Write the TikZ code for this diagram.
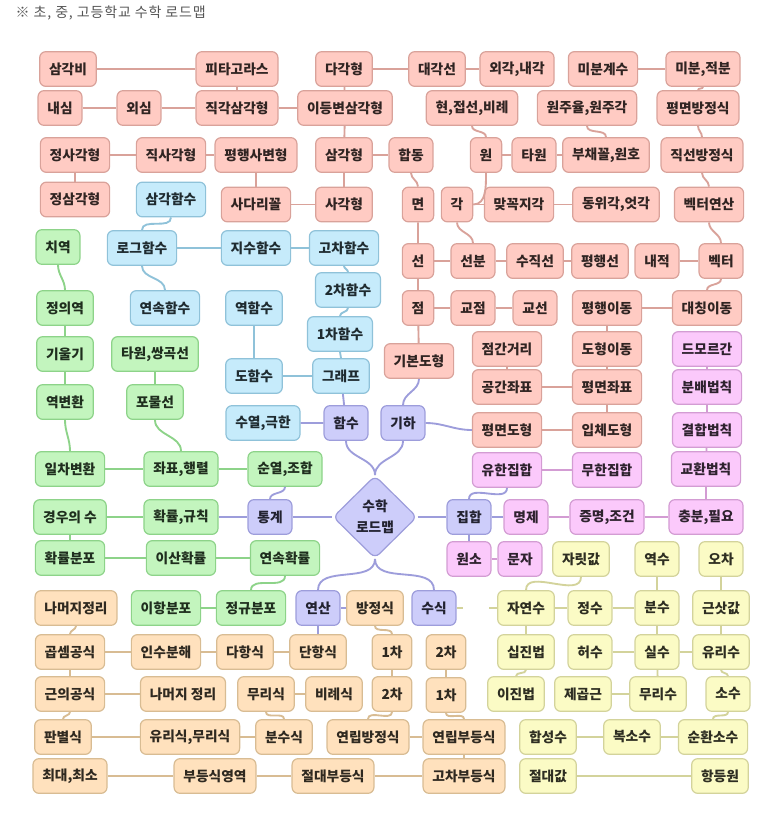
\documentclass[tikz,border=0pt]{standalone}
\usepackage{fontspec}
\setmainfont{Noto Sans CJK KR}
\usetikzlibrary{shapes.geometric}
\definecolor{geofill}{HTML}{FFCBC3}
\definecolor{geoline}{HTML}{D9A29A}
\definecolor{fnfill}{HTML}{C6EBFB}
\definecolor{fnline}{HTML}{8FC2D9}
\definecolor{statfill}{HTML}{C3F5BE}
\definecolor{statline}{HTML}{8DD389}
\definecolor{hubfill}{HTML}{CDCDFA}
\definecolor{hubline}{HTML}{9D9DDB}
\definecolor{setfill}{HTML}{FBC9FB}
\definecolor{setline}{HTML}{D39CD3}
\definecolor{algfill}{HTML}{FFE1BD}
\definecolor{algline}{HTML}{D8BC93}
\definecolor{numfill}{HTML}{FBFBC5}
\definecolor{numline}{HTML}{D3D39B}
\definecolor{ink}{HTML}{555555}
\tikzset{
  box/.style={draw=#1line,fill=#1fill,text=#1line!22!black,line width=0.9pt,rounded corners=4.5pt,
              minimum height=26pt,inner xsep=7pt,inner ysep=2pt,font=\bfseries\fontsize{10.3}{12}\selectfont},
  box/.default=geo,
  wire/.style={draw=#1line,line width=1.4pt},
  wire/.default=geo,
}

\begin{document}
\begin{tikzpicture}[x=0.75pt,y=-0.75pt]
  \useasboundingbox (0,0) rectangle (779,814);
  \node[anchor=west,text=ink,font=\fontsize{10.5}{12}\selectfont\addfontfeatures{LetterSpace=6}] (title) at (11,13) {※ 초, 중, 고등학교 수학 로드맵};
  % geometry
  \node[box] (trigratio) at (68,69) {삼각비};
  \node[box] (pyth) at (237,69) {피타고라스};
  \node[box] (polygon) at (344,69) {다각형};
  \node[box] (diagonal) at (437,69) {대각선};
  \node[box] (extint) at (517,69) {외각,내각};
  \node[box] (diffcoef) at (603,69) {미분계수};
  \node[box] (diffint) at (703,69) {미분,적분};
  \node[box] (incenter) at (60,108) {내심};
  \node[box] (circum) at (139,108) {외심};
  \node[box] (righttri) at (237,108) {직각삼각형};
  \node[box] (isosceles) at (345,108) {이등변삼각형};
  \node[box] (chord) at (472,108) {현,접선,비례};
  \node[box] (pirad) at (587,108) {원주율,원주각};
  \node[box] (planeeq) at (698,108) {평면방정식};
  \node[box] (square) at (75,155) {정사각형};
  \node[box] (rect) at (171,155) {직사각형};
  \node[box] (parallelo) at (256,155) {평행사변형};
  \node[box] (triangle) at (344,155) {삼각형};
  \node[box] (congr) at (411,155) {합동};
  \node[box] (circle) at (486,155) {원};
  \node[box] (ellipse) at (534,155) {타원};
  \node[box] (sector) at (606,155) {부채꼴,원호};
  \node[box] (lineeq) at (702,155) {직선방정식};
  \node[box] (equitri) at (75,199.5) {정삼각형};
  \node[box] (trapez) at (256,204.5) {사다리꼴};
  \node[box] (quad) at (344,204.5) {사각형};
  \node[box] (face) at (418,204.5) {면};
  \node[box] (angle) at (457,204.5) {각};
  \node[box] (vertang) at (519,204.5) {맞꼭지각};
  \node[box] (corrang) at (616,204.5) {동위각,엇각};
  \node[box] (vecop) at (709,204.5) {벡터연산};
  \node[box] (line) at (418,261) {선};
  \node[box] (segment) at (473,261) {선분};
  \node[box] (perp) at (535,261) {수직선};
  \node[box] (parallel) at (600,261) {평행선};
  \node[box] (inner) at (657,261) {내적};
  \node[box] (vector) at (721,261) {벡터};
  \node[box] (point) at (418,308) {점};
  \node[box] (intpt) at (473,308) {교점};
  \node[box] (intline) at (535,308) {교선};
  \node[box] (translate) at (607,308) {평행이동};
  \node[box] (reflect) at (707,308) {대칭이동};
  \node[box] (basic) at (419,361) {기본도형};
  \node[box] (dist) at (507,349) {점간거리};
  \node[box] (transform) at (607,349) {도형이동};
  \node[box] (spacecoord) at (507,387) {공간좌표};
  \node[box] (planecoord) at (607,387) {평면좌표};
  \node[box] (planefig) at (507,430) {평면도형};
  \node[box] (solidfig) at (607,430) {입체도형};
  % functions
  \node[box=fn] (trigfn) at (171,199.5) {삼각함수};
  \node[box=fn] (logfn) at (142,248) {로그함수};
  \node[box=fn] (expfn) at (256,248) {지수함수};
  \node[box=fn] (polyfn) at (344,248) {고차함수};
  \node[box=fn] (quadfn) at (348,290) {2차함수};
  \node[box=fn] (contfn) at (165,308) {연속함수};
  \node[box=fn] (invfn) at (254,308) {역함수};
  \node[box=fn] (linfn) at (340,334) {1차함수};
  \node[box=fn] (deriv) at (254,376) {도함수};
  \node[box=fn] (graph) at (341,376) {그래프};
  \node[box=fn] (seqlim) at (263,423) {수열,극한};
  % statistics
  \node[box=stat] (range) at (58,247) {치역};
  \node[box=stat] (domain) at (65,308) {정의역};
  \node[box=stat] (slope) at (65,354) {기울기};
  \node[box=stat] (conics) at (155,354) {타원,쌍곡선};
  \node[box=stat] (inverse) at (65,402) {역변환};
  \node[box=stat] (parabola) at (155,402) {포물선};
  \node[box=stat] (lintrans) at (70,469) {일차변환};
  \node[box=stat] (coordmat) at (181,469) {좌표,행렬};
  \node[box=stat] (permcomb) at (285,469) {순열,조합};
  \node[box=stat] (cases) at (70,517) {경우의 수};
  \node[box=stat] (probrule) at (181,517) {확률,규칙};
  \node[box=stat] (probdist) at (70,558) {확률분포};
  \node[box=stat] (discrete) at (181,558) {이산확률};
  \node[box=stat] (continuous) at (285,558) {연속확률};
  \node[box=stat] (binom) at (166,608) {이항분포};
  \node[box=stat] (normal) at (251,608) {정규분포};
  % hubs
  \node[box=hub,diamond,aspect=1,minimum width=63pt,minimum height=62pt,inner sep=0pt,align=center,
        font=\bfseries\fontsize{10.3}{16}\selectfont] (roadmap) at (375,517) {수학\\로드맵};
  \node[box=hub] (func) at (346,423) {함수};
  \node[box=hub] (geom) at (403,423) {기하};
  \node[box=hub] (stats) at (270,517) {통계};
  \node[box=hub] (sets) at (469,517) {집합};
  \node[box=hub] (oper) at (318,608) {연산};
  \node[box=hub] (expr) at (434,608) {수식};
  % sets and logic
  \node[box=set] (demorgan) at (707,349) {드모르간};
  \node[box=set] (distrib) at (707,387) {분배법칙};
  \node[box=set] (assoc) at (707,430) {결합법칙};
  \node[box=set] (finite) at (507,470) {유한집합};
  \node[box=set] (infinite) at (607,470) {무한집합};
  \node[box=set] (commut) at (706,469) {교환법칙};
  \node[box=set] (prop) at (526,517) {명제};
  \node[box=set] (proofcond) at (607,517) {증명,조건};
  \node[box=set] (suffnec) at (706,517) {충분,필요};
  \node[box=set] (element) at (469,559) {원소};
  \node[box=set] (letter) at (520,559) {문자};
  % algebra
  \node[box=alg] (remthm) at (76,608) {나머지정리};
  \node[box=alg] (equation) at (375,608) {방정식};
  \node[box=alg] (mulform) at (70,652) {곱셈공식};
  \node[box=alg] (factor) at (166,652) {인수분해};
  \node[box=alg] (polynom) at (245,652) {다항식};
  \node[box=alg] (monom) at (318,652) {단항식};
  \node[box=alg] (leqone) at (392,652) {1차};
  \node[box=alg] (rqtwo) at (446,652) {2차};
  \node[box=alg] (quadform) at (70,694) {근의공식};
  \node[box=alg] (remthmb) at (183,694) {나머지 정리};
  \node[box=alg] (irrexpr) at (266,694) {무리식};
  \node[box=alg] (ratioexpr) at (334,694) {비례식};
  \node[box=alg] (leqtwo) at (392,694) {2차};
  \node[box=alg] (rqone) at (446,695) {1차};
  \node[box=alg] (discrim) at (63,737) {판별식};
  \node[box=alg] (ratirr) at (190,737) {유리식,무리식};
  \node[box=alg] (fracexpr) at (284,737) {분수식};
  \node[box=alg] (simuleq) at (368,737) {연립방정식};
  \node[box=alg] (simulineq) at (464,737) {연립부등식};
  \node[box=alg] (maxmin) at (70,776) {최대,최소};
  \node[box=alg] (ineqregion) at (215,776) {부등식영역};
  \node[box=alg] (absineq) at (333,776) {절대부등식};
  \node[box=alg] (highineq) at (464,776) {고차부등식};
  % numbers
  \node[box=num] (placeval) at (581,559) {자릿값};
  \node[box=num] (recip) at (657,559) {역수};
  \node[box=num] (error) at (721,559) {오차};
  \node[box=num] (natural) at (526,608) {자연수};
  \node[box=num] (integer) at (590,608) {정수};
  \node[box=num] (fraction) at (657,608) {분수};
  \node[box=num] (approx) at (721,608) {근삿값};
  \node[box=num] (decimal) at (526,652) {십진법};
  \node[box=num] (imag) at (590,652) {허수};
  \node[box=num] (real) at (657,652) {실수};
  \node[box=num] (rational) at (721,652) {유리수};
  \node[box=num] (binary) at (516,694) {이진법};
  \node[box=num] (sqroot) at (583,694) {제곱근};
  \node[box=num] (irrational) at (658,694) {무리수};
  \node[box=num] (decfrac) at (728,694) {소수};
  \node[box=num] (composite) at (548,737) {합성수};
  \node[box=num] (complex) at (632,737) {복소수};
  \node[box=num] (repeating) at (713,737) {순환소수};
  \node[box=num] (absval) at (548,776) {절대값};
  \node[box=num] (identity) at (720,776) {항등원};

  % links
  \draw[wire] (trigratio) -- (pyth) -- (righttri);
  \draw[wire] (polygon) -- (diagonal) -- (extint);
  \draw[wire] (polygon) -- (isosceles) -- (triangle);
  \draw[wire] (incenter) -- (circum) -- (righttri) -- (isosceles);
  \draw[wire] (square) -- (rect) -- (parallelo) -- (trapez) -- (quad);
  \draw[wire] (square) -- (equitri);
  \draw[wire] (triangle) -- (quad);
  \draw[wire] (triangle) -- (congr);
  \draw[wire] (congr.south) to[out=-90,in=90] (face.north);
  \draw[wire] (face) -- (line) -- (point) -- (basic);
  \draw[wire] (chord.south) to[out=-90,in=90] (circle.north);
  \draw[wire] (circle) -- (ellipse) -- (sector);
  \draw[wire] (pirad.south) to[out=-90,in=90] (sector.north);
  \draw[wire] (circle.south) to[out=-90,in=0] (angle.east);
  \draw[wire] (angle) -- (vertang) -- (corrang);
  \draw[wire] (angle.south) to[out=-90,in=90] (segment.north);
  \draw[wire] (diffcoef) -- (diffint);
  \draw[wire] (diffint.south) to[out=-90,in=90] (planeeq.north);
  \draw[wire] (planeeq.south) to[out=-90,in=90] (lineeq.north);
  \draw[wire] (lineeq.south) to[out=-90,in=90] (vecop.north);
  \draw[wire] (vecop.south) to[out=-90,in=90] (vector.north);
  \draw[wire] (line) -- (segment) -- (perp) -- (parallel);
  \draw[wire] (inner) -- (vector);
  \draw[wire] (vector.south) to[out=-90,in=90] (reflect.north);
  \draw[wire] (point) -- (intpt) -- (intline);
  \draw[wire] (reflect) -- (translate) -- (transform) -- (planecoord) -- (solidfig) -- (planefig);
  \draw[wire] (dist) -- (spacecoord) -- (planecoord);

  \draw[wire=fn] (trigfn.south) to[out=-90,in=90] (logfn.north);
  \draw[wire=fn] (logfn) -- (expfn) -- (polyfn);
  \draw[wire=fn] (logfn.south) to[out=-90,in=90] (contfn.north);
  \draw[wire=fn] (polyfn.south) to[out=-90,in=90] (quadfn.north);
  \draw[wire=fn] (quadfn.south) to[out=-90,in=90] (linfn.north);
  \draw[wire=fn] (linfn.south) to[out=-90,in=90] (graph.north);
  \draw[wire=fn] (invfn) -- (deriv) -- (graph);

  \draw[wire=stat] (range.south) to[out=-90,in=90] (domain.north);
  \draw[wire=stat] (domain) -- (slope) -- (inverse);
  \draw[wire=stat] (inverse.south) to[out=-90,in=90] (lintrans.north);
  \draw[wire=stat] (conics) -- (parabola);
  \draw[wire=stat] (parabola.south) to[out=-90,in=90] (coordmat.north);
  \draw[wire=stat] (lintrans) -- (coordmat) -- (permcomb);
  \draw[wire=stat] (cases) -- (probrule);
  \draw[wire=stat] (cases) -- (probdist) -- (discrete) -- (continuous);
  \draw[wire=stat] (continuous.south) to[out=-90,in=90] (normal.north);
  \draw[wire=stat] (binom) -- (normal);

  \draw[wire=hub] (graph) -- (func) -- (seqlim);
  \draw[wire=hub] (basic.south) to[out=-90,in=90] (geom.north);
  \draw[wire=hub] (geom.east) to[out=0,in=180] (planefig.west);
  \draw[wire=hub] (roadmap.north) to[out=90,in=-90] (func.south);
  \draw[wire=hub] (roadmap.north) to[out=90,in=-90] (geom.south);
  \draw[wire=hub] (probrule) -- (stats) -- (roadmap) -- (sets) -- (prop);
  \draw[wire=hub] (permcomb.south) to[out=-90,in=90] (stats.north);
  \draw[wire=hub] (sets.north) to[out=90,in=-90] (finite.south);
  \draw[wire=hub] (sets) -- (element);
  \draw[wire=hub] (roadmap.south) to[out=-90,in=90] (oper.north);
  \draw[wire=hub] (roadmap.south) to[out=-90,in=90] (expr.north);
  \draw[wire=hub] (equation) -- (oper) -- (monom);

  \draw[wire=set] (demorgan) -- (distrib) -- (assoc) -- (commut) -- (suffnec);
  \draw[wire=set] (finite) -- (infinite);
  \draw[wire=set] (prop) -- (proofcond) -- (suffnec);
  \draw[wire=set] (element) -- (letter);

  \draw[wire=alg] (remthm.south) to[out=-90,in=90] (mulform.north);
  \draw[wire=alg] (mulform) -- (factor) -- (polynom) -- (monom);
  \draw[wire=alg] (mulform) -- (quadform) -- (remthmb);
  \draw[wire=alg] (quadform.south) to[out=-90,in=90] (discrim.north);
  \draw[wire=alg] (irrexpr) -- (ratioexpr);
  \draw[wire=alg] (irrexpr.south) to[out=-90,in=90] (fracexpr.north);
  \draw[wire=alg] (discrim) -- (ratirr) -- (fracexpr);
  \draw[wire=alg] (maxmin) -- (ineqregion) -- (absineq) -- (highineq);
  \draw[wire=alg] (equation.south) to[out=-90,in=90] (leqone.north);
  \draw[wire=alg] (leqone) -- (leqtwo);
  \draw[wire=alg] (leqtwo.south) to[out=-90,in=90] (simuleq.north);
  \draw[wire=alg] (simuleq) -- (simulineq) -- (highineq);
  \draw[wire=alg] (rqtwo) -- (rqone);
  \draw[wire=alg] (rqone.south) to[out=-90,in=90] (simulineq.north);

  \draw[wire=num,dash pattern=on 4.5pt off 20pt on 20pt] (expr) -- (natural);
  \draw[wire=num] (placeval.south) to[out=-90,in=90] (natural.north);
  \draw[wire=num] (natural) -- (integer) -- (fraction);
  \draw[wire=num] (recip) -- (fraction) -- (real) -- (irrational);
  \draw[wire=num] (error) -- (approx) -- (rational);
  \draw[wire=num] (natural) -- (decimal);
  \draw[wire=num] (decimal.south) to[out=-90,in=90] (binary.north);
  \draw[wire=num] (imag) -- (real) -- (rational);
  \draw[wire=num] (sqroot) -- (irrational);
  \draw[wire=num] (rational.south) to[out=-90,in=90] (decfrac.north);
  \draw[wire=num] (decfrac.south) to[out=-90,in=90] (repeating.north);
  \draw[wire=num] (composite) -- (complex) -- (repeating);
  \draw[wire=num] (absval) -- (identity);
\end{tikzpicture}
\end{document}
